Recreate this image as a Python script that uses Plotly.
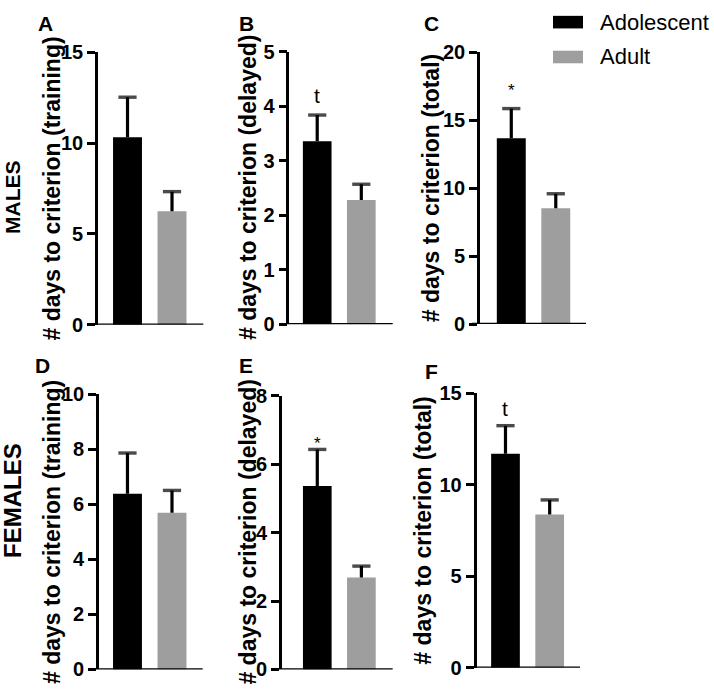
import plotly.graph_objects as go

# ---------------- data ----------------
groups = ["Adolescent", "Adult"]
panels = ["A", "B", "C", "D", "E", "F"]
y_titles = ["# days to criterion (training)", "# days to criterion (delayed)",
            "# days to criterion (total)", "# days to criterion (training)",
            "# days to criterion (delayed)", "# days to criterion (total)"]
means_adolescent = [10.33, 3.36, 13.68, 6.39, 5.36, 11.70]
sem_adolescent = [2.20, 0.48, 2.18, 1.48, 1.07, 1.54]
means_adult = [6.25, 2.28, 8.52, 5.70, 2.69, 8.38]
sem_adult = [1.08, 0.29, 1.07, 0.81, 0.33, 0.80]
y_max = [15, 5, 20, 10, 8, 15]
y_dtick = [5, 1, 5, 2, 2, 5]
sig_marks = ["", "t", "*", "", "*", "t"]
sig_y = [None, 4.2, 17.2, None, 6.6, 14.2]
row_labels = ["MALES", "FEMALES"]

colors = ["#000000", "#9e9e9e"]
W, H = 714, 694
FONT = "Arial, Liberation Sans, Helvetica, sans-serif"

# layout geometry in pixels (left, right, top, bottom) and x ranges
px_boxes = [(98, 203.3, 42.7, 324), (289.3, 392.7, 42.2, 323.5), (480, 586, 42.7, 323.3),
            (99, 202.7, 396, 680), (282, 392.7, 397.3, 680), (476.5, 580, 395, 678.3)]
x_ranges = [(-0.663, 1.703), (-0.633, 1.712), (-0.703, 1.679),
            (-0.64, 1.69), (-0.80, 1.71), (-0.656, 1.686)]
title_x = [52, 248, 431, 52, 248, 423]
letter_pos = [(46, 13), (246, 13), (431, 13), (42, 366), (246, 366), (432, 372)]
row_label_style = [(192, 21), (506, 24)]

fig = go.Figure()
annotations = []
shapes = []

for i in range(6):
    xa = "x" if i == 0 else f"x{i+1}"
    ya = "y" if i == 0 else f"y{i+1}"
    l, r, t, b = px_boxes[i]
    for g, (m, e) in enumerate([(means_adolescent[i], sem_adolescent[i]),
                                (means_adult[i], sem_adult[i])]):
        fig.add_trace(go.Bar(
            x=[g], y=[m], width=0.65, marker=dict(color=colors[g], line=dict(width=0)),
            xaxis=xa, yaxis=ya, showlegend=False, name=groups[g]))
        # upward-only error bar: stem from mean to mean+SEM with a cap at the top
        fig.add_trace(go.Scatter(
            x=[g, g], y=[m, m + e], mode="lines+markers",
            line=dict(color="#000", width=3.2),
            marker=dict(symbol="line-ew", size=[0, 13], color="#000",
                        line=dict(color="#000", width=3.4)),
            xaxis=xa, yaxis=ya, showlegend=False, hoverinfo="skip", cliponaxis=False))
    axname = "xaxis" if i == 0 else f"xaxis{i+1}"
    ayname = "yaxis" if i == 0 else f"yaxis{i+1}"
    tvals = list(range(0, y_max[i] + 1, y_dtick[i]))
    fig.layout[axname] = dict(domain=[l / W, r / W], range=list(x_ranges[i]),
                              showticklabels=False, ticks="", showgrid=False,
                              zeroline=False, showline=False, anchor=ya, fixedrange=True)
    fig.layout[ayname] = dict(domain=[1 - b / H, 1 - t / H], range=[0, y_max[i]],
                              tickmode="array", tickvals=tvals,
                              ticktext=[f"<b>{v}</b>" for v in tvals],
                              showgrid=False, zeroline=False,
                              showline=True, linecolor="#000", linewidth=2.6,
                              ticks="outside", ticklen=8, tickwidth=2.6, tickcolor="#000",
                              tickfont=dict(family=FONT, size=20, color="#000", weight="bold"),
                              anchor=xa, fixedrange=True)
    # x-axis baseline at y=0 (extends left to meet the 0 tick)
    shapes.append(dict(type="line", xref=f"{xa} domain", yref=ya,
                       x0=-8 / (r - l), x1=1, y0=0, y1=0,
                       line=dict(color="#000", width=2.6)))
    # y title
    annotations.append(dict(text=f"<b>{y_titles[i]}</b>", textangle=-90,
                            x=title_x[i] / W, y=1 - (t + b) / 2 / H, xref="paper", yref="paper",
                            xanchor="center", yanchor="middle", showarrow=False,
                            font=dict(family=FONT, size=23, color="#000")))
    # panel letter
    annotations.append(dict(text=f"<b>{panels[i]}</b>", x=letter_pos[i][0] / W,
                            y=1 - letter_pos[i][1] / H, xref="paper", yref="paper",
                            xanchor="center", yanchor="middle", showarrow=False,
                            font=dict(family=FONT, size=21, color="#000")))
    if sig_marks[i]:
        annotations.append(dict(text=sig_marks[i], x=0, y=sig_y[i], xref=xa, yref=ya,
                                xanchor="center", yanchor="middle", showarrow=False,
                                font=dict(family=FONT, size=21 if sig_marks[i] == "t" else 17,
                                          color="#000")))

# row labels
for lab, (yc, fs) in zip(row_labels, row_label_style):
    annotations.append(dict(text=f"<b>{lab}</b>", textangle=-90, x=13 / W, y=1 - yc / H,
                            xref="paper", yref="paper", xanchor="center", yanchor="middle",
                            showarrow=False, font=dict(family=FONT, size=fs, color="#000")))

# legend (drawn manually to match rectangular swatches)
for g, yc in enumerate([11.5, 47.5]):
    shapes.append(dict(type="rect", xref="paper", yref="paper",
                       x0=553 / W, x1=583 / W, y0=1 - (yc + 6.5) / H, y1=1 - (yc - 6.5) / H,
                       fillcolor=colors[g], line=dict(width=0)))
    annotations.append(dict(text=groups[g], x=598 / W, y=1 - yc / H, xref="paper", yref="paper",
                            xanchor="left", yanchor="middle", showarrow=False,
                            font=dict(family=FONT, size=22, color="#000")))

fig.update_layout(width=W, height=H, margin=dict(l=0, r=0, t=0, b=0),
                  paper_bgcolor="white", plot_bgcolor="white", barmode="overlay",
                  showlegend=False, annotations=annotations, shapes=shapes)

fig.write_html("out.html", config={"displayModeBar": False},
               post_script="document.body.style.margin='0';document.body.style.overflow='hidden';")
